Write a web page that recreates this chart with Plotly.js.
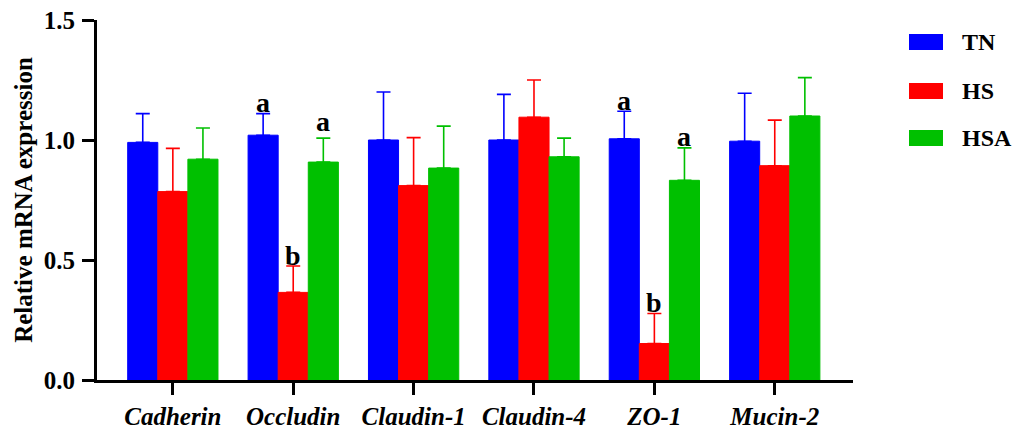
<!DOCTYPE html>
<html>
<head>
<meta charset="utf-8">
<script src="https://cdn.plot.ly/plotly-3.0.1.min.js"></script>
<style>html,body{margin:0;padding:0;background:#fff;}#chart{width:1025px;height:432px;}</style>
</head>
<body>
<div id="chart"></div>
<script>
const categories = ['Cadherin', 'Occludin', 'Claudin-1', 'Claudin-4', 'ZO-1', 'Mucin-2'];
const seriesNames = ['TN', 'HS', 'HSA'];
const seriesColors = ['#0000FF', '#FF0000', '#00C000'];
const tnValues  = [0.99, 1.02, 1.00, 1.00, 1.005, 0.995];
const hsValues  = [0.785, 0.365, 0.81, 1.095, 0.152, 0.893];
const hsaValues = [0.92, 0.908, 0.883, 0.93, 0.832, 1.10];
const tnErr  = [0.12, 0.09, 0.20, 0.19, 0.115, 0.20];
const hsErr  = [0.18, 0.11, 0.20, 0.155, 0.125, 0.19];
const hsaErr = [0.13, 0.10, 0.175, 0.078, 0.135, 0.16];
const yTicks = [0, 0.5, 1.0, 1.5];
const yTickLabels = ['0.0', '0.5', '1.0', '1.5'];
// significance letters: [categoryIndex, seriesIndex, letter]
const sigLetters = [[1, 0, 'a'], [1, 1, 'b'], [1, 2, 'a'], [4, 0, 'a'], [4, 1, 'b'], [4, 2, 'a']];

const values = [tnValues, hsValues, hsaValues];
const errs = [tnErr, hsErr, hsaErr];

const traces = seriesNames.map((name, i) => ({
  type: 'bar',
  name: name,
  x: categories,
  y: values[i],
  marker: {color: seriesColors[i], line: {color: seriesColors[i], width: 1}},
  error_y: {type: 'data', array: errs[i], arrayminus: errs[i].map(() => 0), symmetric: false,
            color: seriesColors[i], thickness: 1.6, width: 7},
  showlegend: false,
  hoverinfo: 'skip'
}));

const serif = 'Liberation Serif, Times New Roman, serif';
const barW = 0.25;
const letterShift = [-6, -7, -1, -7, -6, -6];
const annotations = sigLetters.map(([c, s, t], k) => ({
  x: c + (s - 1) * barW, y: values[s][c] + errs[s][c], xref: 'x', yref: 'y',
  text: t, showarrow: false, yanchor: 'bottom', yshift: letterShift[k],
  font: {family: serif, size: 28, color: '#000', weight: 'bold'}
}));

// legend (swatches + labels)
const shapes = [];
const legTop = [34, 83, 130];
seriesNames.forEach((n, i) => {
  const y0 = (380 - legTop[i]) / 360, y1 = (380 - legTop[i] - 16) / 360;
  shapes.push({type: 'rect', xref: 'paper', yref: 'paper',
    x0: (909 - 97) / 756, x1: (943 - 97) / 756, y0: y1, y1: y0,
    fillcolor: seriesColors[i], line: {width: 0}});
  annotations.push({xref: 'paper', yref: 'paper', x: (960 - 97) / 756, y: (380 - legTop[i] - 8) / 360,
    xanchor: 'left', yanchor: 'middle', text: n, showarrow: false,
    font: {family: serif, size: 24, color: '#000', weight: 'bold'}});
});

const layout = {
  width: 1025, height: 432,
  margin: {l: 97, r: 172, t: 20, b: 52},
  paper_bgcolor: '#fff', plot_bgcolor: '#fff',
  barmode: 'group', bargap: 0.25, bargroupgap: 0,
  xaxis: {
    type: 'category', range: [-0.63, 5.65],
    showline: true, linecolor: '#000', linewidth: 3,
    ticks: 'outside', ticklen: 12, tickwidth: 3, tickcolor: '#000',
    showgrid: false, zeroline: false,
    tickfont: {family: serif, size: 25, color: '#000', weight: 'bold', style: 'italic'}
  },
  yaxis: {
    range: [0, 1.5], tickvals: yTicks, ticktext: yTickLabels,
    showline: true, linecolor: '#000', linewidth: 3,
    ticks: 'outside', ticklen: 12, tickwidth: 3, tickcolor: '#000',
    showgrid: false, zeroline: false, ticklabelstandoff: 2,
    tickfont: {family: serif, size: 25, color: '#000', weight: 'bold'},
    title: {text: 'Relative mRNA expression', standoff: 5,
            font: {family: serif, size: 25, color: '#000', weight: 'bold'}}
  },
  annotations: annotations,
  shapes: shapes
};

Plotly.newPlot('chart', traces, layout, {displayModeBar: false, staticPlot: true});
</script>
</body>
</html>
